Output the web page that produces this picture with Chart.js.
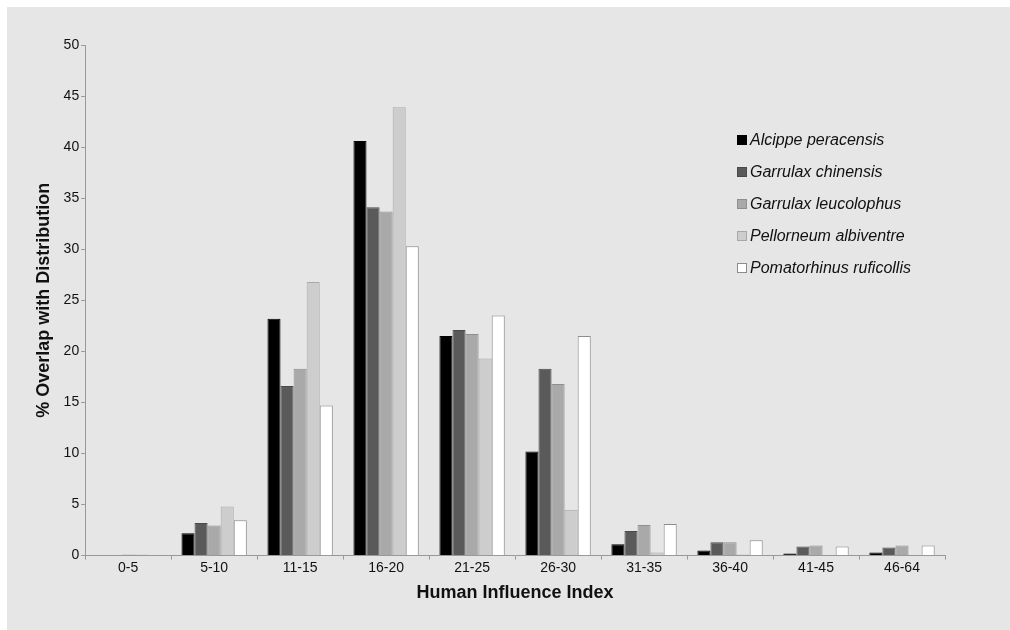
<!DOCTYPE html>
<html>
<head>
<meta charset="utf-8">
<script src="https://cdn.jsdelivr.net/npm/chart.js@4/dist/chart.umd.min.js"></script>
<style>
  html, body { margin: 0; padding: 0; background: #ffffff; }
  #wrap { position: absolute; left: 7px; top: 7px; width: 1003px; height: 623px; background: #e6e6e6; }
  canvas { display: block; }
</style>
</head>
<body>
<div id="wrap"><canvas id="c" width="1003" height="623"></canvas></div>
<script>
const categories = ["0-5", "5-10", "11-15", "16-20", "21-25", "26-30", "31-35", "36-40", "41-45", "46-64"];
const seriesNames = ["Alcippe peracensis", "Garrulax chinensis", "Garrulax leucolophus", "Pellorneum albiventre", "Pomatorhinus ruficollis"];
const alcippe     = [0.0, 2.2, 23.2, 40.6, 21.5, 10.2, 1.1, 0.5, 0.2, 0.3];
const chinensis   = [0.05, 3.2, 16.6, 34.1, 22.1, 18.3, 2.4, 1.3, 0.9, 0.8];
const leucolophus = [0.1, 2.95, 18.3, 33.7, 21.7, 16.8, 3.0, 1.3, 1.0, 1.0];
const pellorneum  = [0.1, 4.8, 26.8, 43.9, 19.3, 4.5, 0.3, 0.1, 0.05, 0.05];
const pomatorhinus= [0.05, 3.45, 14.7, 30.3, 23.5, 21.5, 3.1, 1.5, 0.9, 1.0];
const yTicksMax = 50;
const yTickStep = 5;

const fills = ["#000000", "#5a5a5a", "#a9a9a9", "#cdcdcd", "#ffffff"];
const borders = ["#000000", "#4a4a4a", "#8f8f8f", "#a8a8a8", "#8c8c8c"];
const allData = [alcippe, chinensis, leucolophus, pellorneum, pomatorhinus];
const FONT = '"Liberation Sans", Arial, sans-serif';

const legendPlugin = {
  id: 'customLegend',
  afterDraw(chart) {
    const ctx = chart.ctx;
    ctx.save();
    const x0 = 730, y0 = 133, gap = 32;
    chart.data.datasets.forEach((ds, i) => {
      const y = y0 + i * gap;
      ctx.fillStyle = ds.backgroundColor;
      ctx.strokeStyle = ds.borderColor;
      ctx.lineWidth = 1;
      ctx.fillRect(x0, y - 5, 10, 10);
      ctx.strokeRect(x0 + 0.5, y - 4.5, 9, 9);
      ctx.fillStyle = '#111';
      ctx.font = 'italic 16px ' + FONT;
      ctx.textBaseline = 'middle';
      ctx.textAlign = 'left';
      ctx.fillText(ds.label, x0 + 13, y + 1);
    });
    ctx.restore();
  }
};

new Chart(document.getElementById('c'), {
  type: 'bar',
  data: {
    labels: categories,
    datasets: seriesNames.map((n, i) => ({
      label: n,
      data: allData[i],
      backgroundColor: fills[i],
      borderColor: borders[i],
      borderWidth: 1,
      categoryPercentage: 0.76,
      barPercentage: 1.0
    }))
  },
  options: {
    responsive: false,
    animation: false,
    devicePixelRatio: 1,
    layout: { padding: { left: 22, right: 65, top: 38, bottom: 22 } },
    plugins: { legend: { display: false }, tooltip: { enabled: false } },
    scales: {
      x: {
        grid: { display: true, drawOnChartArea: false, drawTicks: true, tickLength: 4, color: '#999999', offset: true },
        border: { display: true, color: '#999999', width: 1 },
        ticks: { color: '#111', font: { family: FONT, size: 14 }, padding: 0 },
        title: { display: true, text: 'Human Influence Index', color: '#111', font: { family: FONT, size: 18, weight: 'bold' }, padding: { top: 6 } }
      },
      y: {
        min: 0, max: yTicksMax,
        grid: { display: true, drawOnChartArea: false, drawTicks: true, tickLength: 4, color: '#999999' },
        border: { display: true, color: '#999999', width: 1 },
        ticks: { stepSize: yTickStep, color: '#111', font: { family: FONT, size: 14 }, padding: 2 },
        title: { display: true, text: '% Overlap with Distribution', color: '#111', font: { family: FONT, size: 18, weight: 'bold' }, padding: { bottom: 7 } }
      }
    }
  },
  plugins: [legendPlugin]
});
</script>
</body>
</html>
